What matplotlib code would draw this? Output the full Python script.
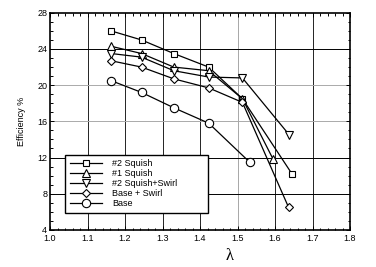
import matplotlib
matplotlib.use('Agg')
import matplotlib.pyplot as plt
from matplotlib.ticker import MultipleLocator

plt.rcParams['font.family'] = ['Liberation Sans', 'DejaVu Sans']

# data
lam_sq2 = [1.163, 1.244, 1.330, 1.423, 1.513, 1.645]
eff_sq2 = [26.0, 25.0, 23.5, 22.0, 18.5, 10.2]

lam_sq1 = [1.163, 1.244, 1.330, 1.423, 1.513, 1.595]
eff_sq1 = [24.3, 23.5, 22.0, 21.6, 18.5, 11.8]

lam_sqsw = [1.163, 1.244, 1.330, 1.423, 1.513, 1.638]
eff_sqsw = [23.5, 23.1, 21.6, 20.9, 20.8, 14.5]

lam_basesw = [1.163, 1.244, 1.330, 1.423, 1.513, 1.636]
eff_basesw = [22.7, 22.0, 20.7, 19.7, 18.1, 6.5]

lam_base = [1.163, 1.244, 1.330, 1.423, 1.532]
eff_base = [20.5, 19.2, 17.5, 15.8, 11.5]

series = [
    ("#2 Squish", lam_sq2, eff_sq2, 's', 5),
    ("#1 Squish", lam_sq1, eff_sq1, '^', 5.5),
    ("#2 Squish+Swirl", lam_sqsw, eff_sqsw, 'v', 5.5),
    ("Base + Swirl", lam_basesw, eff_basesw, 'D', 4.5),
    ("Base", lam_base, eff_base, 'o', 6),
]

fig = plt.figure(figsize=(3.76, 2.67), dpi=100)
ax = fig.add_axes([0.133, 0.139, 0.798, 0.813])

for lab, x, y, m, ms in series:
    ax.plot(x, y, color='black', lw=0.9, marker=m, ms=ms,
            mfc='white', mec='black', mew=0.8, label=lab, zorder=3)

ax.set_xlim(1.0, 1.8)
ax.set_ylim(4, 28)
ax.xaxis.set_major_locator(MultipleLocator(0.1))
ax.xaxis.set_minor_locator(MultipleLocator(0.02))
ax.yaxis.set_major_locator(MultipleLocator(4))
ax.yaxis.set_minor_locator(MultipleLocator(1))
ax.set_xticklabels([f"{v:.1f}" for v in ax.get_xticks()])

# grid lines, some appear lighter in the scan
for xv in [1.1, 1.2, 1.3, 1.4, 1.5, 1.6, 1.7]:
    c = '#999999' if abs(xv - 1.5) < 1e-6 else 'black'
    ax.axvline(xv, color=c, lw=0.6, zorder=1)
for yv in [8, 12, 16, 20, 24]:
    c = '#aaaaaa' if yv in (16, 20) else 'black'
    ax.axhline(yv, color=c, lw=0.7, zorder=1)

ax.tick_params(which='both', direction='in', top=True, right=True,
               labelsize=6.5, width=0.7)
ax.tick_params(axis='y', pad=2)
ax.tick_params(axis='x', pad=3)
ax.tick_params(which='major', length=3)
ax.tick_params(which='minor', length=1.8)
for s in ax.spines.values():
    s.set_linewidth(1.2)

ax.set_ylabel("Efficiency %", fontsize=6.5, labelpad=8)
ax.set_xlabel("λ", fontsize=12, family=['Liberation Serif', 'DejaVu Serif'])
ax.xaxis.set_label_coords(0.6, -0.083)

leg = ax.legend(loc='lower left', bbox_to_anchor=(0.05, 0.078, 0.477, 0.267),
                mode='expand', borderaxespad=0, fontsize=6.5, handlelength=3.6,
                handletextpad=1.1, labelspacing=0.12, borderpad=0.5,
                fancybox=False, framealpha=1, edgecolor='black')
leg.get_frame().set_linewidth(1.0)
leg.set_zorder(5)

fig.savefig('out.png', dpi=100)
